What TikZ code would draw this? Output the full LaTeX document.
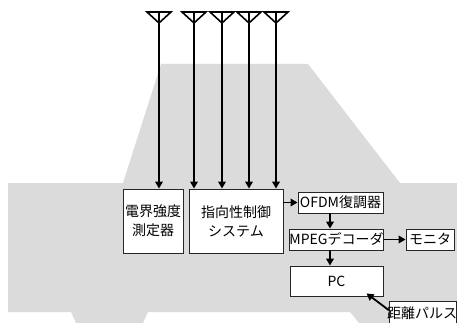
\documentclass[tikz,border=0pt]{standalone}
\usepackage{fontspec}
\setmainfont{Noto Sans CJK JP}
\usetikzlibrary{arrows.meta,calc}
\begin{document}
\begin{tikzpicture}[x=1pt,y=-1pt,
  box/.style={draw=black!85,line width=0.8pt,fill=white,inner sep=0pt,
    font=\fontsize{14pt}{19pt}\selectfont,align=center},
  feed/.style={line width=1.8pt,-{Triangle[length=7pt,width=7.5pt]}},
  aerial/.style={line width=1.6pt,line join=miter}]
\useasboundingbox (0,0) rectangle (457,323);

% vehicle silhouette
\fill[black!14] (8,183) -- (123,183) -- (161,64) -- (308,64) -- (400,183)
  -- (457,183) -- (457,312) -- (440,312) -- (431,323) -- (359,323)
  -- (350,312) -- (148,312) -- (143,323) -- (76,323) -- (71,312)
  -- (8,312) -- cycle;

% processing blocks
\node[box,minimum width=60,minimum height=64] (meas) at (153,221) {電界強度\\測定器};
\node[box,minimum width=94,minimum height=64] (ctrl) at (236,221) {指向性制御\\システム};
\node[box,minimum width=85,minimum height=21] (ofdm) at (340.5,202.5) {OFDM復調器};
\node[box,minimum width=93,minimum height=21] (mpeg) at (336.5,239.5) {MPEGデコーダ};
\node[box,minimum width=48,minimum height=21] (mon) at (430,239.5) {モニタ};
\node[box,minimum width=93,minimum height=30] (pc) at (336.5,281) {PC};
\node[box,minimum width=67,minimum height=24] (pulse) at (422.5,313) {};
\node[font=\fontsize{14pt}{19pt}\selectfont,inner sep=0pt] (pulsetext) at (422,313) {距離パルス};

% antennas feeding the blocks
\foreach \n/\x/\dst in {a1/159/meas,a2/194/ctrl,a3/222/ctrl,a4/249/ctrl,a5/276/ctrl}{
  \coordinate (\n) at (\x,12);
  \draw[aerial] ($(\n)+(-12,0)$) -- ($(\n)+(12,0)$) -- ($(\n)+(0,11)$) -- cycle;
  \draw[feed] (\n) -- (\n |- \dst.north);
}

% signal chain
\draw[feed] (ctrl.east |- ofdm.west) -- (ofdm.west);
\draw[feed] (ofdm.south -| 330,0) -- (mpeg.north -| 330,0);
\draw[feed] (mpeg.south -| 330,0) -- (pc.north -| 330,0);
\draw[feed] (mpeg.east) -- (mon.west);
\coordinate (pctip) at ($(pc.south)+(30,-3)$);
\draw[feed] ($(pulse.north west)!0.38!(pulse.south west)$) -- (pctip);
\end{tikzpicture}
\end{document}
